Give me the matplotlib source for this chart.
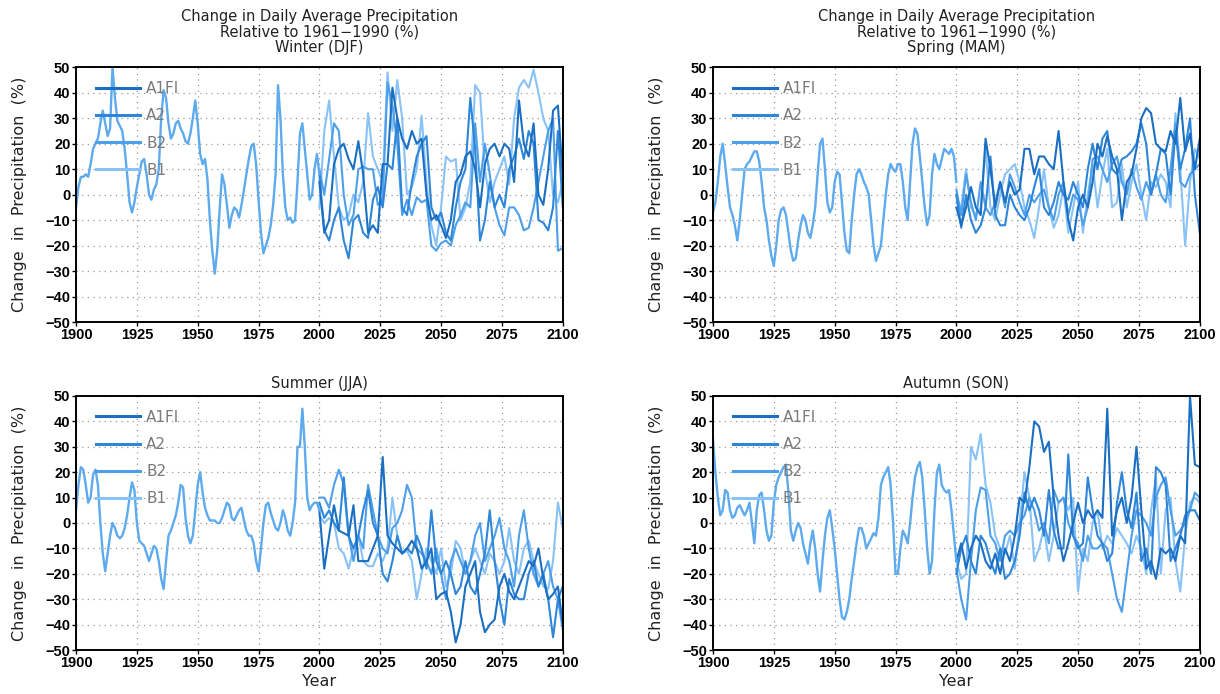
import numpy as np
import matplotlib
matplotlib.use("Agg")
import matplotlib.pyplot as plt

# years
hist_years = np.arange(1900, 2001)
fut_years = np.arange(2000, 2101, 2)

scenarios = ["A1FI", "A2", "B2", "B1"]
colors = {"A1FI": "#1b6fc2", "A2": "#2e86d8", "B2": "#4d9fe9", "B1": "#88c2f6"}
hist_color = "#5eaaee"

# ---- Winter (DJF) ----
winter_hist = [-5, 3, 7, 7, 8, 7, 12, 18, 20, 22, 28, 33, 28, 23, 26, 50, 38, 29, 27, 25,
               18, 8, -3, -7, -3, 3, 8, 13, 14, 8, 0, -2, 2, 4, 10, 30, 41, 38, 28, 22,
               24, 28, 29, 26, 24, 21, 20, 24, 30, 37, 28, 16, 12, 14, 6, -10, -22, -31, -22, -6,
               8, 4, -4, -13, -8, -5, -6, -9, -4, 2, 8, 14, 19, 20, 12, -2, -15, -23, -20, -17,
               -12, -4, 8, 43, 30, 8, -5, -10, -9, -11, -10, 5, 24, 28, 18, 8, -2, 0, 10, 16, 8]
winter_a1fi = [5, -15, -10, 12, 18, 20, 14, 10, 21, 8, -15, -12, -15, 12, 12, 42, 30, 22, 18, 25,
               20, 22, 0, -10, -8, -12, -17, -10, 5, 8, 15, 17, 10, -5, 12, 18, 20, 15, 20, 18,
               5, 37, 20, 15, 28, 0, -4, 10, 33, 35, 7]
winter_a2 = [8, -14, -18, -10, -5, -18, -25, -10, -8, -15, -17, -2, 3, -5, 12, 10, 30, -5, -8, 5,
             15, 20, 23, -5, -10, -7, -15, -18, -5, 5, 10, 38, 18, -18, -10, 5, -5, 0, -5, 10,
             15, 22, 14, 25, 20, -10, -11, -14, -5, 25, -5]
winter_b2 = [10, 0, 14, 28, 25, 0, -12, -8, 10, 11, 10, 10, -4, -2, 44, 35, 20, -8, -2, -8,
             -1, -3, -2, -20, -22, -19, -18, -20, -12, -8, -3, -5, 28, 5, 20, 8, -5, -12, -16, -5,
             -5, -8, -14, -13, -5, 5, 15, 25, 30, -22, -21]
winter_b1 = [-5, 25, 37, 15, -5, -10, -8, 0, -3, 5, 32, 15, 10, 5, 48, 25, 45, 30, 0, 3,
             10, 31, 5, -12, -20, -5, 15, 13, 14, -10, -5, 5, 43, 40, 10, -3, 5, 10, 15, 4,
             30, 42, 45, 42, 49, 40, 30, 25, 0, -3, 5]

# ---- Spring (MAM) ----
spring_hist = [-7, -3, 5, 15, 20, 12, 3, -5, -8, -12, -18, -10, 0, 10, 12, 13, 15, 17, 17, 13,
               5, -5, -10, -18, -24, -28, -20, -10, -6, -5, -8, -15, -22, -26, -25, -18, -12, -8, -10, -15,
               -17, -12, -5, 8, 20, 22, 10, -3, -7, -5, 5, 9, 8, -3, -15, -22, -23, -10, 0, 8,
               10, 8, 5, 3, 0, -10, -20, -26, -23, -20, -10, 0, 8, 12, 10, 9, 12, 12, 5, -5,
               -10, 5, 20, 26, 24, 15, 5, -5, -12, -8, 8, 16, 12, 10, 14, 18, 17, 16, 18, 15, 5]
spring_a1fi = [-5, -12, -5, 3, -5, -8, 22, 10, -5, 5, -3, 5, 0, 2, 18, 18, 8, 15, 15, 12,
               10, 25, 5, -10, -18, -5, 0, -5, 5, 20, 15, 23, 15, 10, -10, 5, 8, 18, 30, 34,
               32, 20, 18, 17, 25, 20, 38, 17, 24, 10, 22]
spring_a2 = [0, -13, 0, -10, -15, -12, -5, 15, -8, -12, -12, 0, -5, -8, -10, -5, 3, 10, -5, -8,
             -3, 5, 0, -2, 5, 0, -5, 10, 20, 10, 22, 25, 10, 8, 14, 15, 17, 20, 28, 20,
             0, 8, 18, 16, 0, 25, 10, 18, 30, 0, -15]
spring_b2 = [2, -8, 8, -3, -10, 5, -5, -8, -3, 5, -5, 8, 3, -3, -8, 0, -3, 0, 2, -5,
             -10, 0, 5, -8, 0, -2, -12, -5, 14, 15, 10, 5, 12, 15, 5, 0, 10, 3, -2, 5,
             0, 8, 0, -3, 10, 28, 5, 3, 8, 10, 12]
spring_b1 = [-3, -5, 10, -5, -8, -5, 18, -5, -10, 0, 8, 10, 12, 5, -5, -10, -17, -5, 10, -5,
             -13, -8, 3, -15, -5, 5, -15, 0, 12, -5, 8, 18, -5, -3, 12, -5, 5, 12, 0, -10,
             5, 3, 8, 5, -5, 32, 10, -20, 5, 18, 14]

# ---- Summer (JJA) ----
summer_hist = [5, 15, 22, 21, 15, 8, 10, 19, 21, 15, 0, -12, -19, -12, -5, 0, -2, -5, -6, -5,
               -2, 3, 10, 16, 13, 0, -7, -8, -9, -12, -15, -12, -9, -10, -15, -22, -26, -15, -5, -3,
               0, 3, 8, 15, 14, 2, -5, -8, -5, 5, 15, 20, 12, 6, 3, 1, 1, 1, 0, 0,
               2, 5, 8, 7, 2, 1, 3, 5, 6, 1, -3, -5, -5, -8, -15, -19, -10, 0, 7, 8,
               4, 1, -2, -3, 0, 5, 2, -3, -5, 0, 8, 30, 30, 45, 30, 10, 5, 7, 8, 8, 5]
summer_a1fi = [5, -18, -5, 7, -3, -4, -5, 7, -15, -15, -15, -10, -5, 26, -5, -8, -10, -12, -10, -7,
               -10, -18, -15, -10, -30, -28, -27, -35, -47, -40, -25, -20, -15, -35, -43, -40, -38, -25, -20, -27,
               -30, -25, -20, -15, -17, -10, -22, -30, -28, -25, -40]
summer_a2 = [8, 2, 5, 0, -3, 18, -5, -10, -5, 5, 13, 0, -5, -20, -23, -15, -5, -12, -10, -12,
             -5, -10, -18, 5, -15, -20, -15, -20, -28, -25, -15, -25, -28, -20, -12, 5, -15, -30, -40, -22,
             -28, -30, -30, -20, -15, -25, -20, -30, -45, -30, -25]
summer_b2 = [10, 10, 6, 15, 21, 15, -5, -15, -5, -10, 15, 5, -5, -10, -12, -2, 0, 5, 15, 10,
             -10, -12, -15, -20, -10, -20, -30, -15, -10, -15, -20, -15, -5, 0, -15, -10, -5, 2, -10, -15,
             -25, -5, 5, -10, -20, -25, -20, -15, -25, -30, -42]
summer_b1 = [3, 0, 2, 0, -10, -12, -18, -10, -5, -15, -17, -17, -12, -15, -10, 10, -5, -12, -11, -15,
             -30, -20, -10, -15, -20, -10, -25, -20, -7, -10, -20, -15, -10, -15, -20, -12, -15, -20, -15, -2,
             -15, -20, -10, -7, -15, -20, -25, -26, -15, 8, -2]

# ---- Autumn (SON) ----
autumn_hist = [33, 20, 10, 3, 5, 13, 12, 5, 2, 3, 6, 7, 5, 3, 5, 8, 0, -8, 5, 11,
               12, 5, -3, -7, -5, 8, 15, 18, 20, 22, 23, 12, -3, -7, -3, 0, -2, -8, -12, -16,
               -8, -3, -10, -20, -27, -15, -5, 2, 5, -2, -10, -20, -30, -37, -38, -35, -30, -22, -15, -8,
               -2, -2, -5, -10, -8, -6, -4, -5, 2, 15, 18, 20, 22, 15, 0, -20, -20, -10, -3, -5,
               -8, 0, 10, 18, 22, 24, 18, 5, -10, -20, -15, 5, 20, 23, 15, 13, 12, 13, 5, -5, -15]
autumn_a1fi = [-15, -8, -18, -10, -5, -8, -15, -18, -12, -20, -10, -15, -5, 10, 8, 22, 40, 38, 28, 32,
               10, -5, -15, -8, 0, 8, 0, 5, 2, 5, 2, 45, -5, 5, 10, 0, 10, 30, 5, -18,
               -15, -22, -10, -12, -10, -15, -5, -8, 50, 23, 22]
autumn_a2 = [-20, -10, -5, -15, -20, -5, -8, -15, -20, -10, -22, -20, -15, -5, 12, 5, 10, 5, -5, 13,
             -3, -10, -10, 27, -5, -10, -8, 18, 5, -5, -8, -15, -12, 8, 20, 5, -2, 12, -15, -10,
             -20, 22, 20, 15, -15, -10, -5, 3, 5, 5, 1]
autumn_b2 = [-18, -30, -38, -15, 5, 14, 13, -5, -8, -15, -5, -3, -5, 0, 3, 10, 5, -3, 0, -8,
             13, 8, 10, 0, -5, -8, -15, -5, -10, -10, -8, -10, -20, -30, -35, -20, -5, 5, 3, 0,
             -5, 10, 15, 18, 5, -5, -3, 0, 5, 12, 10]
autumn_b1 = [-15, -22, -20, 30, 25, 35, 15, 8, -5, -10, -12, -5, -18, 0, 20, 10, -15, -10, -2, -15,
             -5, 8, 10, 5, 10, -27, -10, -15, 0, 5, -10, -5, -8, -2, -5, -8, -12, -5, -10, -20,
             5, 18, -20, 5, 10, -15, -27, -5, 8, 10, 8]

panels = [
    ("Change in Daily Average Precipitation\nRelative to 1961\u22121990 (%)\nWinter (DJF)", winter_hist,
     {"A1FI": winter_a1fi, "A2": winter_a2, "B2": winter_b2, "B1": winter_b1}),
    ("Change in Daily Average Precipitation\nRelative to 1961\u22121990 (%)\nSpring (MAM)", spring_hist,
     {"A1FI": spring_a1fi, "A2": spring_a2, "B2": spring_b2, "B1": spring_b1}),
    ("Summer (JJA)", summer_hist,
     {"A1FI": summer_a1fi, "A2": summer_a2, "B2": summer_b2, "B1": summer_b1}),
    ("Autumn (SON)", autumn_hist,
     {"A1FI": autumn_a1fi, "A2": autumn_a2, "B2": autumn_b2, "B1": autumn_b1}),
]

positions = [
    [0.0623, 0.536, 0.399, 0.367],
    [0.5844, 0.536, 0.399, 0.367],
    [0.0623, 0.0634, 0.399, 0.366],
    [0.5844, 0.0634, 0.399, 0.366],
]

fig = plt.figure(figsize=(12.2, 6.94), dpi=100)
tickfont = {"family": "Liberation Sans", "weight": "bold", "size": 10.5}

for i, (title, hist, fut) in enumerate(panels):
    ax = fig.add_axes(positions[i])
    # legend handles in fixed order, drawing order lightest first
    handles = {}
    for s in ["B1", "B2", "A2", "A1FI"]:
        ln, = ax.plot(fut_years, fut[s], color=colors[s], lw=1.5, label=s)
        handles[s] = ln
    ax.plot(hist_years, hist, color=hist_color, lw=1.7)

    ax.set_xlim(1900, 2100)
    ax.set_ylim(-50, 50)
    ax.set_xticks(np.arange(1900, 2101, 25))
    ax.set_yticks(np.arange(-50, 51, 10))
    ax.set_yticklabels([str(v).replace("-", "\u2212") for v in range(-50, 51, 10)], fontdict=tickfont)
    ax.set_xticklabels([str(v) for v in range(1900, 2101, 25)], fontdict=tickfont)
    ax.tick_params(direction="out", length=3, width=1, pad=1)
    ax.grid(True, color="#9a9a9a", linestyle=(0, (1, 3.5)), lw=0.9)
    for sp in ax.spines.values():
        sp.set_linewidth(1.4)

    ax.set_ylabel("Change  in  Precipitation  (%)", fontsize=11.5, color="#222222", labelpad=13)
    if i >= 2:
        ax.set_xlabel("Year", fontsize=11.5, color="#222222", labelpad=3)
    ax.set_title(title, fontsize=10.5, color="#222222", linespacing=1.05,
                 pad=11 if i < 2 else 6)

    leg = ax.legend([handles[s] for s in scenarios], scenarios, loc="upper left",
                    bbox_to_anchor=(0.012, 1.0), frameon=False, fontsize=11,
                    handlelength=2.9, handletextpad=0.4, labelspacing=0.8,
                    labelcolor="#7a7a7a")
    for lh in leg.get_lines():
        lh.set_linewidth(2.2)

fig.savefig("out.png", dpi=100)
